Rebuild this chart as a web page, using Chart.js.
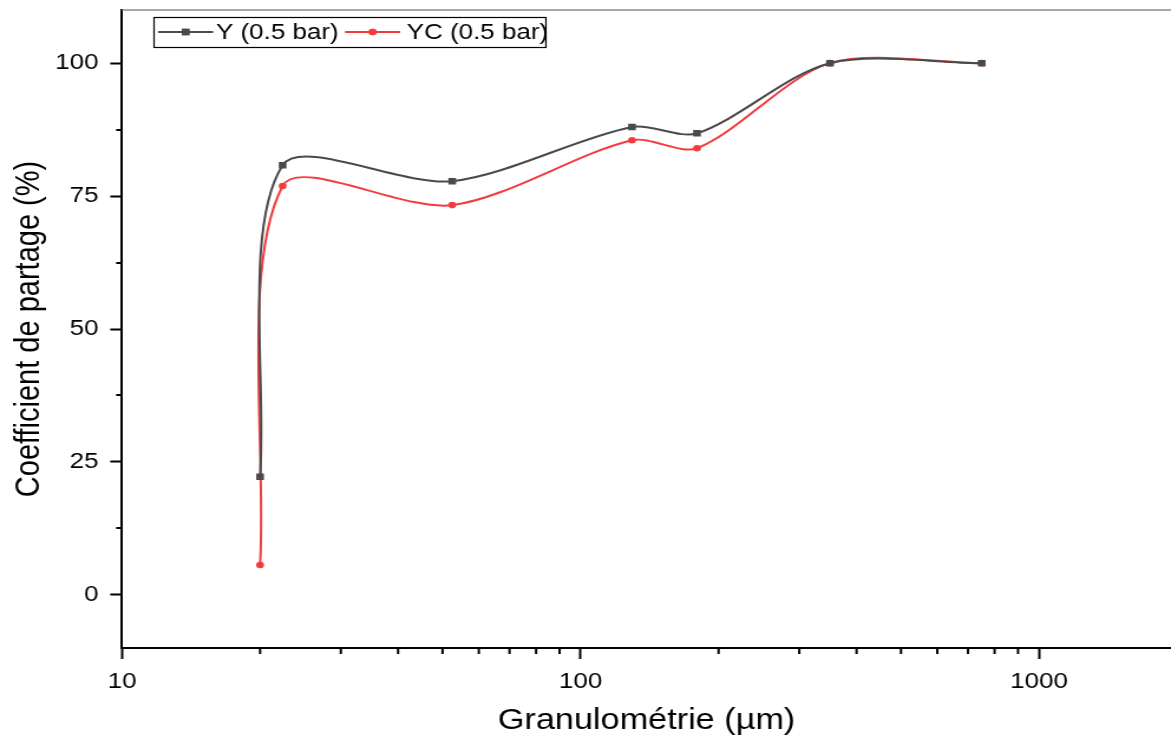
<!DOCTYPE html>
<html>
<head>
<meta charset="utf-8">
<script src="https://cdn.jsdelivr.net/npm/chart.js@4/dist/chart.umd.min.js"></script>
<style>
html,body{margin:0;padding:0;background:#fff;overflow:hidden;}
#wrap{width:992px;height:740px;transform:scaleX(1.1804);transform-origin:0 0;}
</style>
</head>
<body>
<div id="wrap"><canvas id="c" width="992" height="740"></canvas></div>
<script>
const granulometrie = [20, 22.4, 52.5, 129.5, 179.5, 350, 750];
const yValues = [22.2, 80.8, 77.8, 88.0, 86.8, 100, 100];
const ycValues = [5.6, 76.9, 73.3, 85.5, 84.0, 100, 100];
const seriesLabels = ['Y (0.5 bar)', 'YC (0.5 bar)'];
const xMajorTicks = [10, 100, 1000];
const xMinorTicks = [20, 30, 40, 50, 60, 70, 80, 90, 200, 300, 400, 500, 600, 700, 800, 900];
const yMajorTicks = [0, 25, 50, 75, 100];
const yMinorTicks = [12.5, 37.5, 62.5, 87.5];

const FONT = "'Liberation Sans', Arial, sans-serif";
const GRAY = '#4a4a4a';
const RED = '#f23c3f';

const extrasPlugin = {
  id: 'extras',
  afterDraw(chart) {
    const ctx = chart.ctx;
    const xs = chart.scales.x, ys = chart.scales.y;
    const ca = chart.chartArea;
    ctx.save();
    ctx.strokeStyle = '#000';
    ctx.lineWidth = 2;
    xMinorTicks.forEach(v => {
      const px = xs.getPixelForValue(v);
      if (px < ca.left || px > ca.right) return;
      ctx.beginPath(); ctx.moveTo(px, ca.bottom); ctx.lineTo(px, ca.bottom + 6); ctx.stroke();
    });
    yMinorTicks.forEach(v => {
      const py = Math.round(ys.getPixelForValue(v));
      ctx.beginPath(); ctx.moveTo(ca.left, py); ctx.lineTo(ca.left - 5, py); ctx.stroke();
    });
    // top frame line
    ctx.strokeStyle = '#8a8a8a';
    ctx.lineWidth = 1.5;
    ctx.beginPath(); ctx.moveTo(ca.left, ca.top); ctx.lineTo(ca.right, ca.top); ctx.stroke();

    // legend box
    const bx = 130.5, by = 17, bw = 332, bh = 30;
    ctx.fillStyle = '#fff';
    ctx.fillRect(bx, by, bw, bh);
    ctx.strokeStyle = '#000';
    ctx.lineWidth = 1.2;
    ctx.strokeRect(bx, by + 0.5, bw, bh);
    const cy = by + bh / 2;
    const items = [
      {x0: 134, x1: 180.5, tx: 183, style: 'rect', r: 4.6},
      {x0: 292.3, x1: 339, tx: 344.5, style: 'circle', r: 3.3}
    ];
    chart.data.datasets.forEach((ds, i) => {
      const it = items[i];
      ctx.strokeStyle = ds.borderColor;
      ctx.lineWidth = 2;
      ctx.beginPath(); ctx.moveTo(it.x0, cy); ctx.lineTo(it.x1, cy); ctx.stroke();
      ctx.fillStyle = ds.borderColor;
      Chart.helpers.drawPoint(ctx, {pointStyle: it.style, radius: it.r, borderWidth: 0}, (it.x0 + it.x1) / 2, cy);
      ctx.fill();
      ctx.fillStyle = '#000';
      ctx.font = '22px ' + FONT;
      ctx.textBaseline = 'middle';
      ctx.textAlign = 'left';
      ctx.fillText(ds.label, it.tx, cy + 1);
    });
    ctx.restore();
  }
};

new Chart(document.getElementById('c'), {
  type: 'line',
  data: {
    datasets: [
      {
        label: seriesLabels[0],
        data: granulometrie.map((x, i) => ({x, y: yValues[i]})),
        borderColor: GRAY, backgroundColor: GRAY,
        borderWidth: 2, pointStyle: 'rect', pointRadius: 4.6, pointBorderWidth: 0,
        tension: 0.3, cubicInterpolationMode: 'default'
      },
      {
        label: seriesLabels[1],
        data: granulometrie.map((x, i) => ({x, y: ycValues[i]})),
        borderColor: RED, backgroundColor: RED,
        borderWidth: 2, pointStyle: 'circle', pointRadius: 3.3, pointBorderWidth: 0,
        tension: 0.3, cubicInterpolationMode: 'default'
      }
    ]
  },
  plugins: [extrasPlugin],
  options: {
    responsive: false,
    animation: false,
    devicePixelRatio: 1,
    layout: {autoPadding: false, padding: {top: 10, right: 0, left: 0, bottom: 0}},
    plugins: {legend: {display: false}, tooltip: {enabled: false}},
    scales: {
      x: {
        type: 'logarithmic',
        min: 10, max: 1940,
        afterBuildTicks(s) { s.ticks = xMajorTicks.map(v => ({value: v, major: true})); },
        afterFit(s) { s.height = 92; s.paddingLeft = 0; s.paddingRight = 0; },
        grid: {display: true, drawOnChartArea: false, drawTicks: true, tickLength: 11, tickWidth: 2, tickColor: '#000'},
        border: {display: true, color: '#000', width: 2},
        ticks: {
          autoSkip: false, maxRotation: 0, padding: 10, color: '#000',
          font: {family: FONT, size: 22},
          callback: (v) => String(v)
        },
        title: {display: true, text: 'Granulométrie (µm)', color: '#000', font: {family: FONT, size: 29}, padding: {top: 0, bottom: 2}}
      },
      y: {
        type: 'linear',
        min: -10, max: 110,
        afterBuildTicks(s) { s.ticks = yMajorTicks.map(v => ({value: v})); },
        afterFit(s) { s.width = 103.4; s.paddingTop = 0; s.paddingBottom = 0; },
        grid: {display: true, drawOnChartArea: false, drawTicks: true, tickLength: 10, tickWidth: 2, tickColor: '#000'},
        border: {display: true, color: '#000', width: 2},
        ticks: {
          padding: 10, color: '#000',
          font: {family: FONT, size: 22},
          callback: (v) => String(v)
        },
        title: {display: true, text: 'Coefficient de partage (%)', color: '#000', font: {family: FONT, size: 29}, padding: {top: 8, bottom: 0}}
      }
    }
  }
});
</script>
</body>
</html>
